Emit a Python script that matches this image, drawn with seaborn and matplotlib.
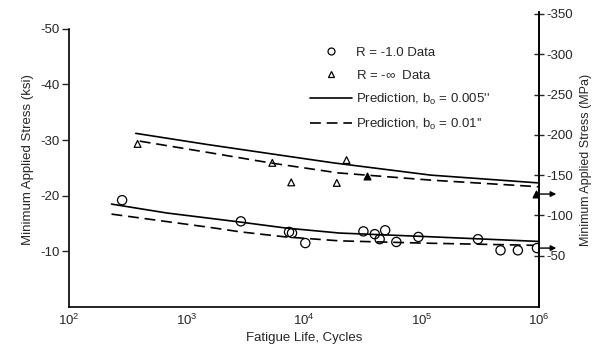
import matplotlib
matplotlib.use("Agg")
import matplotlib.pyplot as plt
import seaborn as sns
from matplotlib.lines import Line2D

sns.set_theme(style="white")
plt.rcParams['font.family'] = ['Liberation Sans', 'DejaVu Sans']
plt.rcParams['mathtext.fontset'] = 'custom'
plt.rcParams['mathtext.rm'] = 'Liberation Sans'

# R = -1.0 data (cycles, ksi)
circ_n = [283, 2900, 7450, 7900, 10250, 32000, 40000, 44000, 49000, 61000,
          94000, 302000, 470000, 660000, 960000]
circ_s = [-19.2, -15.4, -13.5, -13.3, -11.5, -13.6, -13.1, -12.2, -13.8, -11.7,
          -12.6, -12.2, -10.2, -10.2, -10.6]

# R = -inf data
tri_n = [383, 5370, 7780, 19000, 23000]
tri_s = [-29.3, -25.9, -22.4, -22.3, -26.4]
tri_fill_n = [34000, 950000]
tri_fill_s = [-23.5, -20.3]

# runouts (arrows)
runout_n = [1000000, 1000000]
runout_s = [-20.3, -10.6]

# prediction curves
up_solid_n = [370, 1500, 6200, 17800, 120000, 850000, 1000000]
up_solid_s = [-31.2, -29.2, -27.3, -25.9, -23.7, -22.4, -22.3]
up_dash_n = [400, 1600, 5130, 19500, 120000, 850000, 1000000]
up_dash_s = [-29.8, -27.7, -25.9, -24.1, -22.8, -21.7, -21.6]
lo_solid_n = [230, 680, 2800, 7000, 20000, 100000, 980000]
lo_solid_s = [-18.5, -16.9, -15.3, -14.2, -13.3, -12.7, -11.8]
lo_dash_n = [230, 1600, 2900, 7000, 20000, 100000, 890000]
lo_dash_s = [-16.7, -14.3, -13.5, -12.6, -11.9, -11.5, -11.1]

mpa_ticks = [-350, -300, -250, -200, -150, -100, -50]
ksi_ticks = [-50, -40, -30, -20, -10]

fig = plt.figure(figsize=(5.95, 3.51), dpi=100)
ax = fig.add_axes([0.116, 0.125, 0.79, 0.841])

dash = (0, (6.5, 3.5))
for n, s, ls in [(up_solid_n, up_solid_s, '-'), (up_dash_n, up_dash_s, dash),
                 (lo_solid_n, lo_solid_s, '-'), (lo_dash_n, lo_dash_s, dash)]:
    sns.lineplot(x=n, y=s, ax=ax, color='black', lw=1.2, linestyle=ls,
                 sort=False, estimator=None)

sns.scatterplot(x=circ_n, y=circ_s, ax=ax, marker='o', s=44, color='black',
                facecolor='none', edgecolor='black', linewidth=0.9, zorder=3)
sns.scatterplot(x=tri_n, y=tri_s, ax=ax, marker='^', s=24, color='black',
                facecolor='none', edgecolor='black', linewidth=0.9, zorder=3)
sns.scatterplot(x=tri_fill_n, y=tri_fill_s, ax=ax, marker='^', s=24,
                color='black', edgecolor='black', linewidth=0.9, zorder=3)

for n, s in zip(runout_n, runout_s):
    ax.annotate('', xy=(n * 1.4, s), xytext=(n, s), annotation_clip=False,
                arrowprops=dict(arrowstyle='-|>', color='black', lw=1.0,
                                mutation_scale=8, shrinkA=0, shrinkB=0))

ax.set_xscale('log')
ax.set_xlim(100, 1e6)
ax.set_ylim(0, -53.0)
ax.set_yticks(ksi_ticks)
ax.set_yticklabels([str(t) for t in ksi_ticks], fontsize=9.5)
ax.set_xticks([1e2, 1e3, 1e4, 1e5, 1e6])
ax.set_xticklabels([r'$10^{2}$', r'$10^{3}$', r'$10^{4}$', r'$10^{5}$', r'$10^{6}$'],
                   fontsize=9.5)
ax.minorticks_off()
ax.tick_params(axis='x', direction='in', length=5, width=1, pad=4)
ax.tick_params(axis='y', direction='out', length=5, width=1, pad=2, left=True)
ax.spines['top'].set_visible(False)
for sp in ['left', 'bottom', 'right']:
    ax.spines[sp].set_color('black')
    ax.spines[sp].set_linewidth(1.2)
ax.spines['left'].set_bounds(0, -50)
ax.set_xlabel('Fatigue Life, Cycles', fontsize=9.5, labelpad=3)
ax.set_ylabel('Minimum Applied Stress (ksi)', fontsize=9.5, labelpad=4)

ax2 = ax.twinx()
ax2.set_ylim(13.7, -352.5)
ax2.set_yticks(mpa_ticks)
ax2.set_yticklabels([str(t) for t in mpa_ticks], fontsize=9.5)
ax2.tick_params(axis='y', direction='inout', length=7, width=1, pad=2, right=True)
for sp in ['left', 'top', 'bottom']:
    ax2.spines[sp].set_visible(False)
ax2.spines['right'].set_color('black')
ax2.spines['right'].set_linewidth(1.2)
ax2.set_ylabel('Minimum Applied Stress (MPa)', fontsize=9, labelpad=5)
ax2.grid(False)

handles = [
    Line2D([], [], marker='o', ls='none', mfc='none', mec='black', ms=5, mew=0.9),
    Line2D([], [], marker='^', ls='none', mfc='none', mec='black', ms=4.5, mew=0.9),
    Line2D([], [], color='black', lw=1.2),
    Line2D([], [], color='black', lw=1.2, linestyle=dash),
]
labels = ['R = -1.0 Data', r'R = -$\infty$  Data',
          r"Prediction, b$_\mathregular{o}$ = 0.005''",
          r"Prediction, b$_\mathregular{o}$ = 0.01''"]
ax.legend(handles, labels, loc='upper left', bbox_to_anchor=(0.513, 0.883),
          frameon=False, fontsize=9.5, handlelength=3.2, handletextpad=0.3,
          labelspacing=0.75, borderpad=0, borderaxespad=0)

fig.savefig('out.png', dpi=100)
